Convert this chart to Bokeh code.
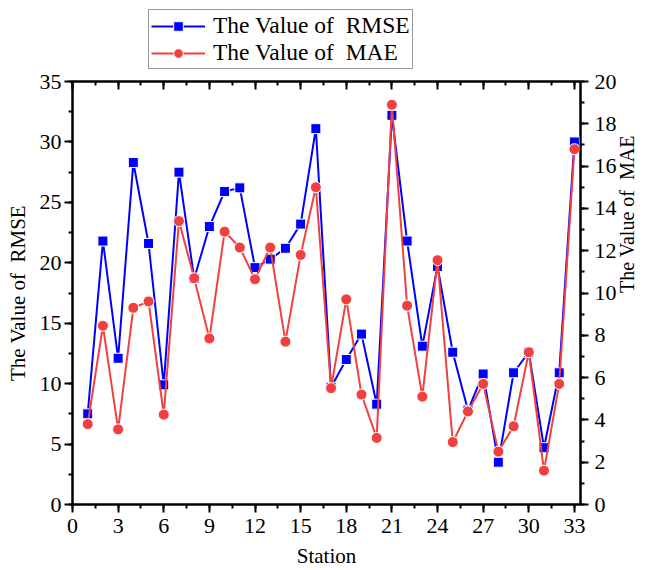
import math
from bokeh.plotting import figure
from bokeh.layouts import column
from bokeh.models import (Range1d, LinearAxis, SingleIntervalTicker, Legend,
                          LegendItem)
from bokeh.embed import file_html
from bokeh.resources import INLINE

# Error metrics per monitoring station
stations = list(range(1, 34))
rmse = [7.5, 21.8, 12.1, 28.3, 21.6, 9.9, 27.5, 18.7, 23.0, 25.9, 26.2,
        19.6, 20.3, 21.2, 23.2, 31.1, 9.7, 12.0, 14.1, 8.3, 32.2, 21.8,
        13.1, 19.7, 12.6, 7.8, 10.8, 3.5, 10.9, 12.6, 4.7, 10.9, 30.0]
mae = [3.8, 8.45, 3.55, 9.3, 9.6, 4.25, 13.4, 10.7, 7.85, 12.9, 12.15,
       10.65, 12.15, 7.7, 11.8, 15.0, 5.5, 9.7, 5.2, 3.15, 18.9, 9.4,
       5.1, 11.55, 2.95, 4.4, 5.7, 2.5, 3.7, 7.2, 1.6, 5.7, 16.8]

NB = "\u00a0"
x_label = "Station"
left_label = "The Value of" + NB + NB + "RMSE"
right_label = "The Value of" + NB + NB + "MAE"
legend_labels = ["The Value of" + NB + NB + "RMSE",
                 "The Value of" + NB + NB + "MAE"]

FONT = "Liberation Serif"
BLUE = "#0000FF"
RED = "#F04040"

BLUE_LINE = dict(line_color=BLUE, line_width=2)
BLUE_MARK = dict(marker="square", size=10, fill_color=BLUE,
                 line_color="white", line_width=1)
RED_LINE = dict(line_color=RED, line_width=2)
RED_MARK = dict(marker="circle", size=11, fill_color=RED,
                line_color="white", line_width=1)

# ---- main chart -------------------------------------------------------
p = figure(width=651, height=500, output_backend="svg", toolbar_location=None,
           x_range=Range1d(0, 33.4), y_range=Range1d(0, 35),
           min_border_left=72, min_border_right=68, min_border_top=11,
           min_border_bottom=63, x_axis_location=None, y_axis_location=None)
p.extra_y_ranges = {"mae": Range1d(0, 20)}
p.xgrid.visible = False
p.ygrid.visible = False
p.outline_line_color = "black"
p.outline_line_width = 2
p.background_fill_color = "white"
p.border_fill_color = "white"


def style_axis(ax, tick_in=0, tick_out=8, minor_in=0, minor_out=4):
    ax.axis_line_width = 2
    ax.axis_line_color = "black"
    ax.major_tick_line_width = 2
    ax.minor_tick_line_width = 2
    ax.major_tick_line_color = "black"
    ax.minor_tick_line_color = "black"
    ax.major_tick_in = tick_in
    ax.major_tick_out = tick_out
    ax.minor_tick_in = minor_in
    ax.minor_tick_out = minor_out
    ax.major_label_text_font = FONT
    ax.major_label_text_font_size = "22px"
    ax.major_label_text_color = "black"
    ax.axis_label_text_font = FONT
    ax.axis_label_text_font_size = "21px"
    ax.axis_label_text_font_style = "normal"
    ax.axis_label_text_color = "black"


x_ticks = list(range(0, 34, 3))

xb = LinearAxis(ticker=SingleIntervalTicker(interval=3, num_minor_ticks=2),
                axis_label=x_label)
style_axis(xb)
xb.major_label_standoff = 6
xb.axis_label_standoff = 8
p.add_layout(xb, "below")

# top frame edge: inward ticks only, no labels
xt = LinearAxis(ticker=SingleIntervalTicker(interval=3, num_minor_ticks=2))
style_axis(xt, tick_in=8, tick_out=0, minor_in=4, minor_out=0)
xt.major_label_overrides = {t: "" for t in x_ticks}
xt.major_label_standoff = 0
p.add_layout(xt, "above")

yl = LinearAxis(ticker=SingleIntervalTicker(interval=5, num_minor_ticks=2),
                axis_label=left_label)
style_axis(yl)
yl.major_label_standoff = 3
yl.axis_label_standoff = 7
p.add_layout(yl, "left")

yr = LinearAxis(y_range_name="mae",
                ticker=SingleIntervalTicker(interval=2, num_minor_ticks=2),
                axis_label=right_label)
style_axis(yr)
yr.axis_label_text_font_size = "20px"
yr.major_label_standoff = 6
yr.axis_label_standoff = 7
yr.axis_label_orientation = math.pi / 2
p.add_layout(yr, "right")

p.line(stations, rmse, **BLUE_LINE)
p.scatter(stations, rmse, **BLUE_MARK)
p.line(stations, mae, y_range_name="mae", **RED_LINE)
p.scatter(stations, mae, y_range_name="mae", **RED_MARK)

# ---- legend strip above the chart ---------------------------------------
# the strip's ranges lie outside the data, so only the legend shows
lg = figure(width=651, height=70, output_backend="svg", toolbar_location=None,
            x_range=Range1d(-3, -2), y_range=Range1d(-3, -2), min_border=0,
            x_axis_location=None, y_axis_location=None)
lg.xgrid.visible = False
lg.ygrid.visible = False
lg.outline_line_color = None
lg.border_fill_color = "white"

k1 = lg.line(stations, rmse, **BLUE_LINE)
m1 = lg.scatter(stations, rmse, **BLUE_MARK)
k2 = lg.line(stations, mae, **RED_LINE)
m2 = lg.scatter(stations, mae, **RED_MARK)

legend = Legend(items=[LegendItem(label=legend_labels[0], renderers=[k1, m1]),
                       LegendItem(label=legend_labels[1], renderers=[k2, m2])],
                location=(76, 1), orientation="vertical")
legend.label_text_font = FONT
legend.label_text_font_size = "23.5px"
legend.label_text_color = "black"
legend.glyph_width = 54
legend.glyph_height = 24
legend.label_height = 24
legend.spacing = 0
legend.padding = 2
legend.margin = 0
legend.label_standoff = 8
legend.border_line_color = "#333333"
legend.border_line_width = 1
legend.background_fill_alpha = 1.0
lg.add_layout(legend, "center")

layout = column(lg, p, spacing=0)
open("out.html", "w").write(file_html(layout, INLINE))
